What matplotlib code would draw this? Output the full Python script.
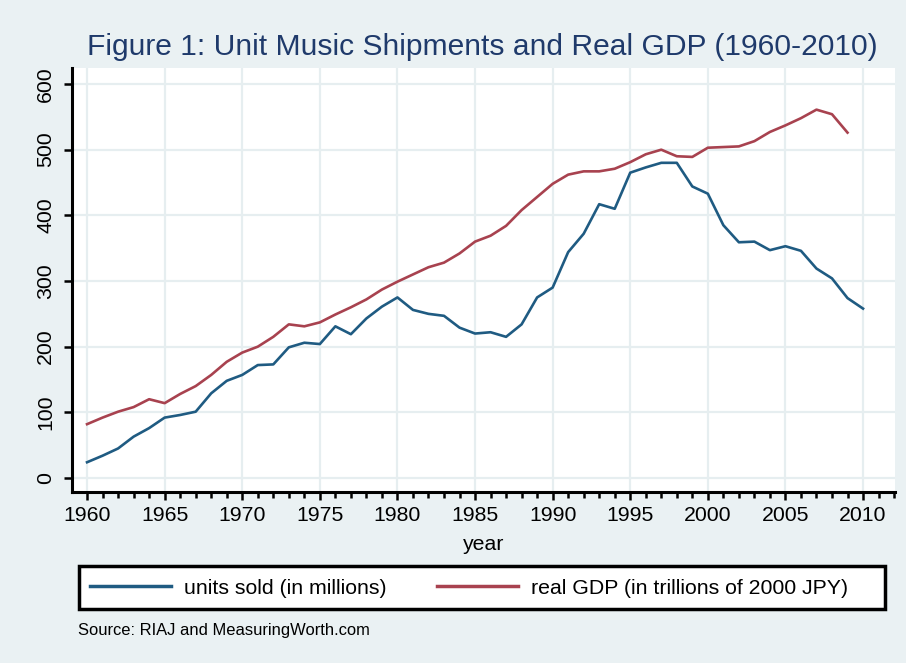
import matplotlib
matplotlib.use("Agg")
import matplotlib.pyplot as plt
from matplotlib.patches import Rectangle
from matplotlib.ticker import MultipleLocator

plt.rcParams['font.family'] = ['Liberation Sans', 'DejaVu Sans']

years = list(range(1960, 2011))
units_sold = [24, 34, 45, 63, 76, 92, 96, 101, 129, 148, 157, 172, 173, 199, 206, 204,
              231, 219, 243, 261, 275, 256, 250, 247, 229, 220, 222, 215, 234, 275,
              290, 344, 372, 417, 410, 465, 473, 480, 480, 444, 433, 385, 359, 360,
              347, 353, 346, 319, 304, 274, 258]
gdp_years = list(range(1960, 2010))
real_gdp = [82, 92, 101, 108, 120, 114, 128, 140, 157, 177, 191, 200, 215, 234, 231, 237,
            249, 260, 272, 287, 299, 310, 321, 328, 342, 360, 369, 384, 408, 428,
            448, 462, 467, 467, 471, 481, 493, 500, 490, 489, 503, 504, 505, 513,
            527, 537, 548, 561, 554, 526]

bg = '#eaf1f3'
blue = '#1f5b82'
red = '#a8424f'
grid_c = '#e6eef0'

fig = plt.figure(figsize=(9.06, 6.63), dpi=100, facecolor=bg)
W, H = 906, 663
ax = fig.add_axes([72 / W, 1 - 492 / H, (895 - 72) / W, (492 - 68) / H])
ax.set_facecolor('white')

ax.plot(years, units_sold, color=blue, lw=1.9, label='units sold (in millions)')
ax.plot(gdp_years, real_gdp, color=red, lw=1.9, label='real GDP (in trillions of 2000 JPY)')

ax.set_xlim(1959.03, 2012.06)
ax.set_ylim(-21.3, 624.4)
ax.set_xticks(range(1960, 2011, 5))
ax.xaxis.set_minor_locator(MultipleLocator(1))
ax.set_yticks(range(0, 601, 100))
ax.grid(True, color=grid_c, lw=1.6)
ax.set_axisbelow(True)

for s in ['top', 'right']:
    ax.spines[s].set_visible(False)
for s in ['left', 'bottom']:
    ax.spines[s].set_linewidth(2.2)
    ax.spines[s].set_color('black')

ax.tick_params(axis='both', which='major', length=6, width=1.8, labelsize=15.3, pad=4)
ax.tick_params(axis='y', pad=6)
ax.tick_params(axis='x', which='minor', length=4, width=1.8)
plt.setp(ax.get_yticklabels(), rotation=90, va='center')
ax.set_xlabel('year', fontsize=15.3, labelpad=7)

fig.text(0.5 * (90 + 875) / W, 1 - 47 / H,
         'Figure 1: Unit Music Shipments and Real GDP (1960-2010)',
         ha='center', va='center', fontsize=21.6, color='#1f3a6b')

# legend box drawn as a figure patch, legend itself without frame
fig.add_artist(Rectangle((79 / W, 1 - 609 / H), 806 / W, 43 / H, transform=fig.transFigure,
                         facecolor='white', edgecolor='black', lw=2.5, zorder=1))
leg = fig.legend(loc='center left', bbox_to_anchor=(90 / W, 1 - 588 / H),
                 ncol=2, fontsize=15.3, frameon=False,
                 handlelength=3.8, handletextpad=0.6, columnspacing=2.4,
                 borderaxespad=0, borderpad=0)
leg.set_zorder(2)
for h in leg.get_lines():
    h.set_linewidth(2.5)

fig.text(78 / W, 1 - 631 / H, 'Source: RIAJ and MeasuringWorth.com',
         ha='left', va='center', fontsize=11.9)

fig.savefig('out.png', dpi=100, facecolor=bg)
